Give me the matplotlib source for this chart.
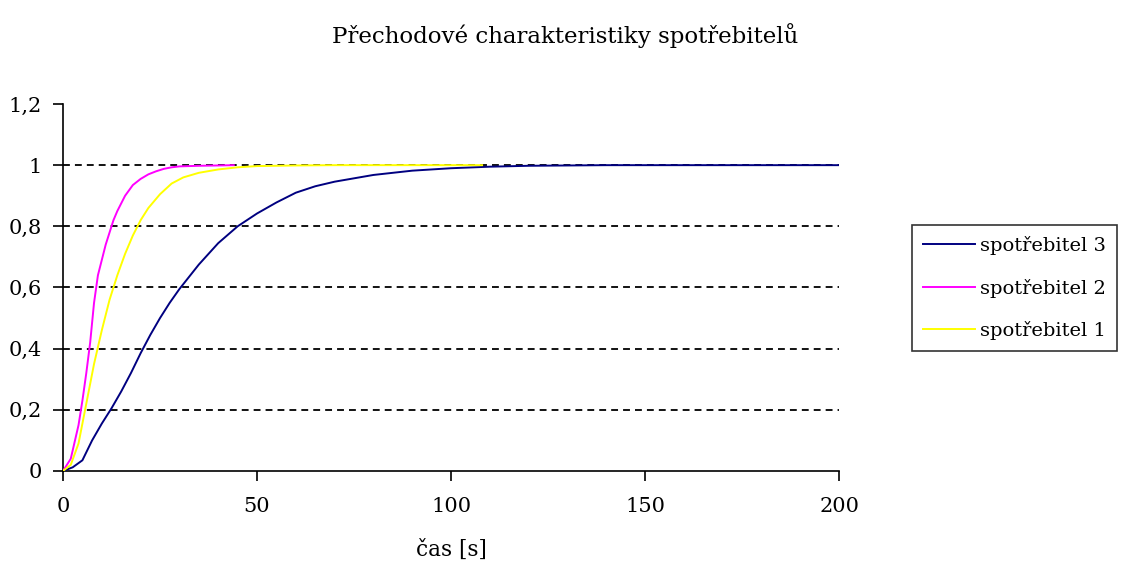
import numpy as np
import matplotlib.pyplot as plt

# data
t3 = [0, 2.5, 5, 7.5, 10, 12.5, 15, 17.5, 20, 22.5, 25, 27.5, 30, 35, 40, 45, 50, 55, 60, 65, 70, 75, 80, 90, 100, 110, 120, 140, 160, 180, 200]
y3 = [0, 0.012, 0.035, 0.1, 0.155, 0.205, 0.26, 0.32, 0.385, 0.445, 0.5, 0.55, 0.595, 0.675, 0.745, 0.8, 0.842, 0.878, 0.91, 0.931, 0.946, 0.957, 0.968, 0.982, 0.99, 0.995, 0.998, 1.0, 1.0, 1.0, 1.0]

t2 = [0, 2, 4, 5, 6, 7, 8, 9, 10, 11, 12, 13, 14, 16, 18, 20, 22, 24, 26, 28, 30, 35, 40, 44]
y2 = [0, 0.04, 0.15, 0.23, 0.32, 0.42, 0.55, 0.64, 0.69, 0.74, 0.78, 0.82, 0.85, 0.9, 0.935, 0.955, 0.97, 0.98, 0.988, 0.993, 0.996, 0.998, 0.999, 1.0]

t1 = [0, 2, 4, 6, 8, 10, 12, 14, 16, 18, 20, 22, 25, 28, 31, 35, 40, 45, 50, 60, 70, 80, 90, 100, 108]
y1 = [0, 0.02, 0.09, 0.22, 0.35, 0.46, 0.56, 0.64, 0.71, 0.77, 0.82, 0.86, 0.905, 0.94, 0.96, 0.975, 0.986, 0.993, 0.997, 0.999, 1.0, 1.0, 1.0, 1.0, 1.0]

yticks = [0, 0.2, 0.4, 0.6, 0.8, 1, 1.2]
ylabels = ['0', '0,2', '0,4', '0,6', '0,8', '1', '1,2']
xticks = [0, 50, 100, 150, 200]

plt.rcParams['font.family'] = ['DejaVu Serif']

fig = plt.figure(figsize=(11.23, 5.68), dpi=100)
ax = fig.add_axes([0.0561, 0.1708, 0.6911, 0.6461])

# grid lines
for g in yticks[1:-1]:
    ax.axhline(g, color='black', linestyle=(0, (3.8, 2.8)), linewidth=1.3, zorder=1)

ax.plot(t3, y3, color='#000080', linewidth=1.4, label='spotřebitel 3', zorder=3)
ax.plot(t2, y2, color='#FF00FF', linewidth=1.4, label='spotřebitel 2', zorder=3)
ax.plot(t1, y1, color='#FFFF00', linewidth=1.4, label='spotřebitel 1', zorder=3)

ax.set_xlim(0, 200)
ax.set_ylim(0, 1.2)
ax.set_xticks(xticks)
ax.set_yticks(yticks)
ax.set_yticklabels(ylabels)
ax.tick_params(direction='out', length=7, width=1.2, labelsize=15)
ax.tick_params(axis='y', pad=8)
ax.tick_params(axis='x', pad=12)
for s in ['left', 'bottom']:
    ax.spines[s].set_linewidth(1.2)
ax.spines['top'].set_visible(False)
ax.spines['right'].set_visible(False)
ax.set_xlabel('čas [s]', fontsize=15.5, labelpad=16)

fig.text(0.503, 0.938, 'Přechodové charakteristiky spotřebitelů', ha='center', va='center', fontsize=16.5)

leg = ax.legend(loc='center left', bbox_to_anchor=(912 / 1123, (568 - 288) / 568),
                bbox_transform=fig.transFigure, fontsize=14.0, frameon=True, fancybox=False,
                handlelength=2.7, handletextpad=0.25, labelspacing=1.2, borderpad=0.55,
                borderaxespad=0)
leg.get_frame().set_edgecolor('black')
leg.get_frame().set_linewidth(1.2)

fig.savefig('out.png', dpi=100)
